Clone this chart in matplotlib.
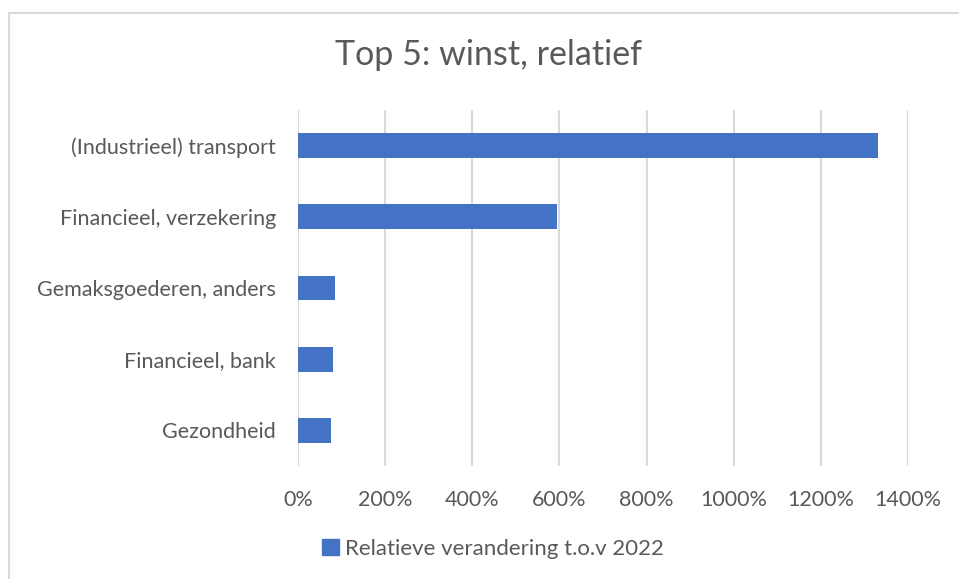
import matplotlib
matplotlib.use("Agg")
import matplotlib.pyplot as plt
from matplotlib.lines import Line2D
from matplotlib.patches import Patch
from matplotlib.ticker import FuncFormatter

categories = ["(Industrieel) transport", "Financieel, verzekering",
              "Gemaksgoederen, anders", "Financieel, bank", "Gezondheid"]
values = [1330, 595, 85, 81, 76]
series_name = "Relatieve verandering t.o.v 2022"
title = "Top 5: winst, relatief"

BLUE = "#4472C4"
GREY = "#595959"
GRID = "#D9D9D9"

plt.rcParams["font.family"] = ["Lato", "DejaVu Sans"]

fig = plt.figure(figsize=(9.59, 5.79), dpi=100)
W, H = 959, 579
ax = fig.add_axes([298 / W, 1 - 466 / H, 610 / W, 356 / H])

ypos = list(range(len(categories)))
ax.barh(ypos, values, height=0.35, color=BLUE, zorder=3)
ax.set_ylim(len(categories) - 0.5, -0.5)
ax.set_yticks(ypos)
ax.set_yticklabels(categories)

ax.set_xlim(0, 1400)
ax.set_xticks(range(0, 1401, 200))
ax.xaxis.set_major_formatter(FuncFormatter(lambda v, p: f"{v:.0f}%"))
ax.grid(axis="x", color=GRID, linewidth=1.5, zorder=0)
for s in ax.spines.values():
    s.set_visible(False)
ax.tick_params(length=0, labelsize=15.5, colors=GREY)
ax.tick_params(axis="y", pad=16)
ax.tick_params(axis="x", pad=17)

fig.text(488 / W, 1 - 55 / H, title, ha="center", va="center",
         fontsize=24.5, color=GREY)

fig.legend(handles=[Patch(color=BLUE, label=series_name)],
           loc="center", bbox_to_anchor=(493 / W, 1 - 549 / H),
           frameon=False, fontsize=16, labelcolor=GREY,
           handlelength=0.75, handleheight=0.75, handletextpad=0.3)

# chart area border (only left and top are visible in the crop)
fig.add_artist(Line2D([8.5 / W, 8.5 / W], [0, 1 - 12.5 / H],
                      transform=fig.transFigure, color=GRID, linewidth=1.5))
fig.add_artist(Line2D([8.5 / W, 1], [1 - 12.5 / H, 1 - 12.5 / H],
                      transform=fig.transFigure, color=GRID, linewidth=1.5))

fig.savefig("out.png", dpi=100, facecolor="white")
